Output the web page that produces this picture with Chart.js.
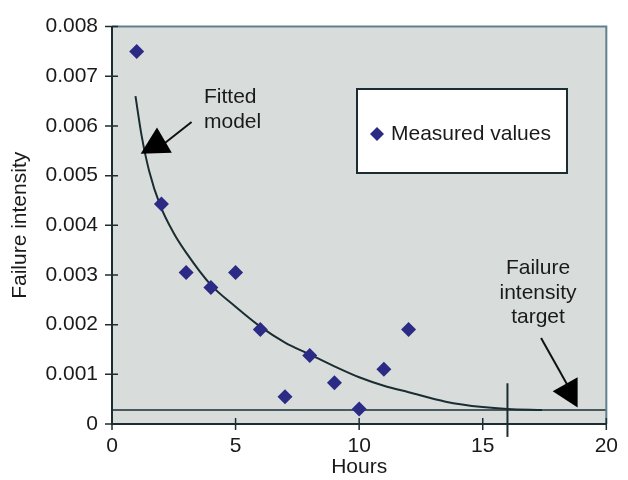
<!DOCTYPE html>
<html>
<head>
<meta charset="utf-8">
<script src="https://cdn.jsdelivr.net/npm/chart.js@4.4.0/dist/chart.umd.min.js"></script>
<style>
html, body { margin: 0; padding: 0; background: #fff; }
#wrap { width: 628px; height: 480px; }
</style>
</head>
<body>
<div id="wrap"><canvas id="failureChart" width="628" height="480"></canvas></div>
<script>
// measured failure intensity per hour
var hours = [1, 2, 3, 4, 5, 6, 7, 8, 9, 10, 11, 12];
var measured = [0.0075, 0.00443, 0.00305, 0.00275, 0.00305, 0.0019, 0.00055, 0.00138, 0.00083, 0.0003, 0.0011, 0.0019];

// fitted model curve
var fitHours = [0.95, 1.2, 1.5, 1.95, 2.5, 3, 4, 5, 6, 7, 8, 9, 10, 11, 12, 13.5, 15, 16, 17.4];
var fitted = [0.0066, 0.0058, 0.0051, 0.0044, 0.00384, 0.00345, 0.0028, 0.00236, 0.00196, 0.00164, 0.0014, 0.00116, 0.00094, 0.00077, 0.00064, 0.00045, 0.00034, 0.0003, 0.00028];

// failure intensity target
var targetHours = [0, 20];
var target = [0.00028, 0.00028];
var targetReachedAt = 16;

var xTicks = [0, 5, 10, 15, 20];
var yTicks = [0, 0.001, 0.002, 0.003, 0.004, 0.005, 0.006, 0.007, 0.008];

var FONT = '"Liberation Sans", Arial, sans-serif';
var INK = '#1c2d32';
var TEXT = '#1a1a1a';

function pts(xs, ys) {
    return xs.map(function(x, i) { return {x: x, y: ys[i]}; });
}

var decor = {
    id: 'decor',
    beforeDraw: function(chart) {
        var a = chart.chartArea, ctx = chart.ctx;
        ctx.save();
        ctx.fillStyle = '#d8dddc';
        ctx.fillRect(a.left, a.top, a.right - a.left, a.bottom - a.top);
        ctx.restore();
    },
    afterDraw: function(chart) {
        var a = chart.chartArea, ctx = chart.ctx;
        var sx = chart.scales.x, sy = chart.scales.y;
        var px = function(v) { return sx.getPixelForValue(v); };
        var py = function(v) { return sy.getPixelForValue(v); };
        ctx.save();

        // frame: top / right soft, left / bottom axes dark
        ctx.lineWidth = 2;
        ctx.strokeStyle = '#62808c';
        ctx.beginPath();
        ctx.moveTo(a.left, a.top); ctx.lineTo(a.right, a.top); ctx.lineTo(a.right, a.bottom);
        ctx.stroke();
        ctx.strokeStyle = INK;
        ctx.beginPath();
        ctx.moveTo(a.left, a.top); ctx.lineTo(a.left, a.bottom); ctx.lineTo(a.right, a.bottom);
        ctx.stroke();

        // ticks crossing the axes
        ctx.lineWidth = 1.5;
        ctx.beginPath();
        yTicks.forEach(function(v) {
            var y = py(v);
            ctx.moveTo(a.left - 7, y); ctx.lineTo(a.left + 6, y);
        });
        xTicks.forEach(function(v) {
            var x = px(v);
            ctx.moveTo(x, a.bottom - 6); ctx.lineTo(x, a.bottom + 6);
        });
        ctx.stroke();

        // marker where target is reached
        ctx.lineWidth = 2;
        ctx.beginPath();
        ctx.moveTo(px(targetReachedAt), py(0.00082));
        ctx.lineTo(px(targetReachedAt), py(-0.00026));
        ctx.stroke();

        // arrows
        function arrow(from, to, tri) {
            ctx.strokeStyle = '#111';
            ctx.lineWidth = 2;
            ctx.beginPath();
            ctx.moveTo(px(from[0]), py(from[1]));
            ctx.lineTo(px(to[0]), py(to[1]));
            ctx.stroke();
            ctx.fillStyle = '#000';
            ctx.beginPath();
            ctx.moveTo(px(tri[0][0]), py(tri[0][1]));
            ctx.lineTo(px(tri[1][0]), py(tri[1][1]));
            ctx.lineTo(px(tri[2][0]), py(tri[2][1]));
            ctx.closePath();
            ctx.fill();
        }
        arrow([3.22, 0.00608], [2.0, 0.0056], [[1.16, 0.00544], [1.82, 0.00597], [2.42, 0.00546]]);
        arrow([17.36, 0.00173], [18.5, 0.00072], [[18.84, 0.00033], [17.83, 0.00066], [18.84, 0.00094]]);

        // annotation texts
        ctx.fillStyle = TEXT;
        ctx.font = '21px ' + FONT;
        ctx.textBaseline = 'middle';
        ctx.textAlign = 'left';
        ctx.fillText('Fitted', 204, 97);
        ctx.fillText('model', 204, 122);
        ctx.textAlign = 'center';
        ctx.fillText('Failure', 538, 268);
        ctx.fillText('intensity', 538, 293);
        ctx.fillText('target', 538, 317);

        // legend box
        ctx.fillStyle = '#fff';
        ctx.fillRect(357, 89, 210, 84);
        ctx.strokeStyle = INK;
        ctx.lineWidth = 2;
        ctx.strokeRect(357, 89, 210, 84);
        ctx.fillStyle = '#2b2a85';
        ctx.beginPath();
        ctx.moveTo(377, 127); ctx.lineTo(384, 134); ctx.lineTo(377, 141); ctx.lineTo(370, 134);
        ctx.closePath();
        ctx.fill();
        ctx.fillStyle = TEXT;
        ctx.textAlign = 'left';
        ctx.fillText('Measured values', 391, 134);

        ctx.restore();
    }
};

var chart = new Chart(document.getElementById('failureChart'), {
    type: 'scatter',
    data: {
        datasets: [
            {
                label: 'Measured values',
                data: pts(hours, measured),
                pointStyle: 'rectRot',
                pointRadius: 7.5,
                pointHoverRadius: 7.5,
                backgroundColor: '#2b2a85',
                borderColor: '#2b2a85',
                borderWidth: 0,
                order: 0
            },
            {
                label: 'Fitted model',
                data: pts(fitHours, fitted),
                showLine: true,
                cubicInterpolationMode: 'monotone',
                pointRadius: 0,
                borderColor: INK,
                borderWidth: 2,
                order: 1
            },
            {
                label: 'Failure intensity target',
                data: pts(targetHours, target),
                showLine: true,
                pointRadius: 0,
                borderColor: INK,
                borderWidth: 1.5,
                order: 2
            }
        ]
    },
    options: {
        responsive: false,
        animation: false,
        layout: { padding: { top: 20, right: 13, left: 0, bottom: 0 } },
        plugins: {
            legend: { display: false },
            tooltip: { enabled: false }
        },
        scales: {
            x: {
                type: 'linear',
                min: 0,
                max: 20,
                afterBuildTicks: function(axis) { axis.ticks = xTicks.map(function(v) { return {value: v}; }); },
                afterFit: function(axis) { axis.height = 56; },
                grid: { display: false, drawTicks: false },
                border: { display: false },
                ticks: { color: TEXT, padding: 10, font: { family: FONT, size: 21 } },
                title: {
                    display: true,
                    text: 'Hours',
                    color: TEXT,
                    padding: { top: 0, bottom: 0 },
                    font: { family: FONT, size: 21 }
                }
            },
            y: {
                type: 'linear',
                min: 0,
                max: 0.008,
                afterBuildTicks: function(axis) { axis.ticks = yTicks.map(function(v) { return {value: v}; }); },
                afterFit: function(axis) { axis.width = 112; },
                grid: { display: false, drawTicks: false },
                border: { display: false },
                ticks: {
                    color: TEXT,
                    padding: 14,
                    font: { family: FONT, size: 21 },
                    callback: function(v) { return v === 0 ? '0' : v.toFixed(3); }
                },
                title: {
                    display: true,
                    text: 'Failure intensity',
                    color: TEXT,
                    padding: { top: 8, bottom: 0 },
                    font: { family: FONT, size: 21 }
                }
            }
        }
    },
    plugins: [decor]
});
</script>
</body>
</html>
